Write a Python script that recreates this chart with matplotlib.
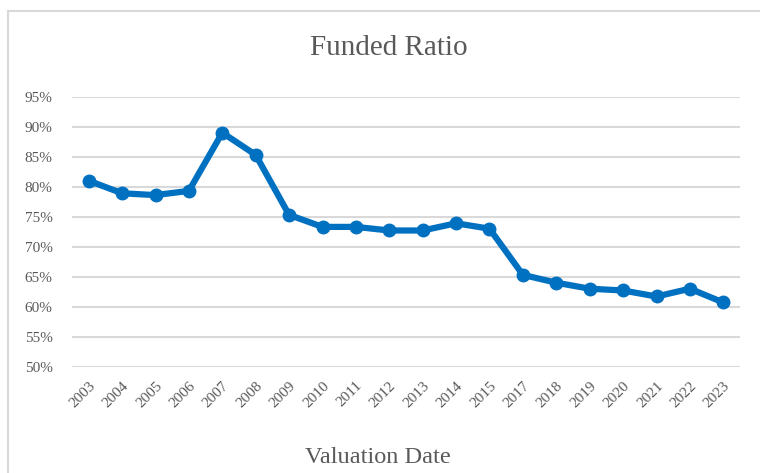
import matplotlib
matplotlib.use("Agg")
import matplotlib.pyplot as plt
from matplotlib.lines import Line2D

years = ["2003", "2004", "2005", "2006", "2007", "2008", "2009", "2010", "2011", "2012",
         "2013", "2014", "2015", "2017", "2018", "2019", "2020", "2021", "2022", "2023"]
funded_ratio = [81.0, 78.9, 78.6, 79.3, 89.0, 85.3, 75.3, 73.3, 73.3, 72.7,
                72.7, 73.9, 73.0, 65.3, 64.0, 63.0, 62.7, 61.7, 63.0, 60.7]
y_ticks = [50, 55, 60, 65, 70, 75, 80, 85, 90, 95]

plt.rcParams['font.family'] = ['Liberation Serif', 'DejaVu Serif']
grey = '#595959'

fig = plt.figure(figsize=(7.6, 4.73), dpi=100)
ax = fig.add_axes([72/760, 1-366.7/473, (740-72)/760, (366.7-96.7)/473])

x = list(range(len(years)))
ax.plot(x, [v / 100 for v in funded_ratio], color='#0070C0', lw=4.5, marker='o',
        markersize=9, solid_joinstyle='round', zorder=3)

ax.set_xlim(-0.5, len(years) - 0.5)
ax.set_ylim(0.50, 0.95)
ax.set_yticks([t / 100 for t in y_ticks])
ax.set_yticklabels([f"{t}%" for t in y_ticks])
ax.set_xticks(x)
ax.set_xticklabels(years, rotation=45, ha='right', rotation_mode='anchor')
ax.tick_params(axis='both', length=0, colors=grey, labelsize=11)
ax.tick_params(axis='y', pad=14)
ax.tick_params(axis='x', pad=9)
ax.grid(axis='y', color='#D9D9D9', lw=1.5)
ax.set_axisbelow(True)
for s in ax.spines.values():
    s.set_visible(False)

fig.text(389/760, 1-48/473, "Funded Ratio", ha='center', va='center', fontsize=21, color=grey)
fig.text(378/760, 1-457/473, "Valuation Date", ha='center', va='center', fontsize=17.5, color=grey)

# outer border (top and left visible)
fig.add_artist(Line2D([8/760, 1], [1-11/473, 1-11/473], transform=fig.transFigure, color='#D9D9D9', lw=1.5))
fig.add_artist(Line2D([8/760, 8/760], [1-11/473, 0], transform=fig.transFigure, color='#D9D9D9', lw=1.5))

fig.savefig("out.png", dpi=100)
